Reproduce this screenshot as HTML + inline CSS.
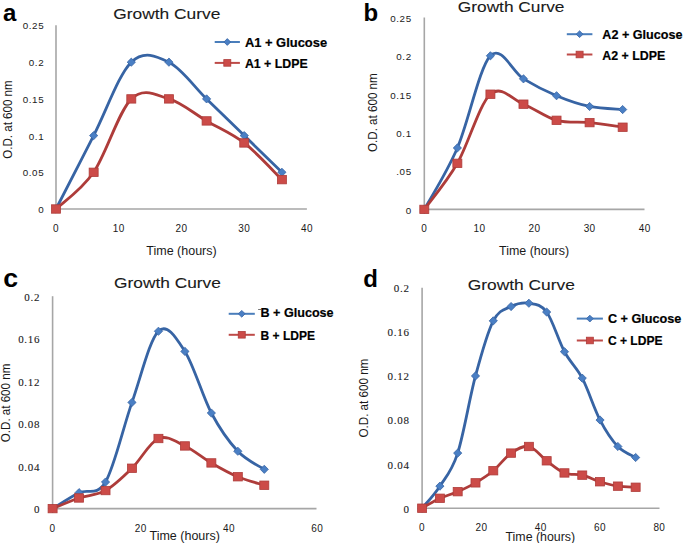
<!DOCTYPE html>
<html><head><meta charset="utf-8"><title>Growth Curves</title>
<style>
html,body{margin:0;padding:0;background:#fff;}
body{width:685px;height:543px;overflow:hidden;}
svg{display:block;}
text{font-family:"Liberation Sans",sans-serif;fill:#1a1a1a;}
.yl-sans{font-size:9.8px;letter-spacing:0.6px;}
.yl-serif{font-family:"Liberation Serif",serif;font-size:11px;letter-spacing:0.7px;stroke:#1a1a1a;stroke-width:0.1px;}
.xl{font-size:10px;letter-spacing:0.4px;}
.let{font-size:24px;font-weight:bold;fill:#000;}
.ttl{font-size:14.5px;stroke:#1a1a1a;stroke-width:0.1px;}
.ax{font-size:12px;}
.leg{font-size:13.2px;font-weight:bold;fill:#000;stroke:#000;stroke-width:0.2px;}
</style></head>
<body>
<svg width="685" height="543" viewBox="0 0 685 543">
<rect width="685" height="543" fill="#fff"/>
<line x1="56" y1="25.3" x2="56" y2="209.8" stroke="#a6a6a6" stroke-width="1.6"/>
<line x1="56" y1="209" x2="306.9" y2="209" stroke="#a6a6a6" stroke-width="1.6"/>
<text class="yl-sans" x="44.2" y="212.9" text-anchor="end">0</text>
<text class="yl-sans" x="44.2" y="176.2" text-anchor="end">0.05</text>
<text class="yl-sans" x="44.2" y="139.5" text-anchor="end">0.1</text>
<text class="yl-sans" x="44.2" y="102.8" text-anchor="end">0.15</text>
<text class="yl-sans" x="44.2" y="66.1" text-anchor="end">0.2</text>
<text class="yl-sans" x="44.2" y="29.4" text-anchor="end">0.25</text>
<text class="xl" x="56" y="232.2" text-anchor="middle">0</text>
<text class="xl" x="118.75" y="232.2" text-anchor="middle">10</text>
<text class="xl" x="181.5" y="232.2" text-anchor="middle">20</text>
<text class="xl" x="244.25" y="232.2" text-anchor="middle">30</text>
<text class="xl" x="307" y="232.2" text-anchor="middle">40</text>
<text class="let" x="3" y="21.2">a</text>
<text class="ttl" x="113.3" y="19.4" textLength="107.1" lengthAdjust="spacingAndGlyphs">Growth Curve</text>
<text class="ax" transform="translate(11.5,158.7) rotate(-90)" x="0" y="0" textLength="78.3" lengthAdjust="spacingAndGlyphs">O.D. at 600 nm</text>
<text class="ax" x="146.3" y="255.1" textLength="70.4" lengthAdjust="spacingAndGlyphs">Time (hours)</text>
<path d="M56,209 C62.27,196.77 81.1,160.07 93.65,135.6 C106.2,111.13 118.75,74.43 131.3,62.2 C143.85,49.97 156.4,56.08 168.95,62.2 C181.5,68.32 194.05,86.67 206.6,98.9 C219.15,111.13 231.7,123.37 244.25,135.6 C256.8,147.83 275.62,166.18 281.9,172.3" fill="none" stroke="#3764a4" stroke-width="2.8" stroke-linejoin="round" stroke-linecap="round"/>
<path d="M56,209 C62.27,202.88 81.1,190.65 93.65,172.3 C106.2,153.95 118.75,111.13 131.3,98.9 C143.85,86.67 156.4,95.23 168.95,98.9 C181.5,102.57 194.05,113.58 206.6,120.92 C219.15,128.26 231.7,133.15 244.25,142.94 C256.8,152.73 275.62,173.52 281.9,179.64" fill="none" stroke="#ae3c3a" stroke-width="2.8" stroke-linejoin="round" stroke-linecap="round"/>
<path d="M56,204.9 L60.1,209 L56,213.1 L51.9,209 Z" fill="#4a7fc4" stroke="#3764a4" stroke-width="0.8"/>
<path d="M93.65,131.5 L97.75,135.6 L93.65,139.7 L89.55,135.6 Z" fill="#4a7fc4" stroke="#3764a4" stroke-width="0.8"/>
<path d="M131.3,58.1 L135.4,62.2 L131.3,66.3 L127.2,62.2 Z" fill="#4a7fc4" stroke="#3764a4" stroke-width="0.8"/>
<path d="M168.95,58.1 L173.05,62.2 L168.95,66.3 L164.85,62.2 Z" fill="#4a7fc4" stroke="#3764a4" stroke-width="0.8"/>
<path d="M206.6,94.8 L210.7,98.9 L206.6,103 L202.5,98.9 Z" fill="#4a7fc4" stroke="#3764a4" stroke-width="0.8"/>
<path d="M244.25,131.5 L248.35,135.6 L244.25,139.7 L240.15,135.6 Z" fill="#4a7fc4" stroke="#3764a4" stroke-width="0.8"/>
<path d="M281.9,168.2 L286,172.3 L281.9,176.4 L277.8,172.3 Z" fill="#4a7fc4" stroke="#3764a4" stroke-width="0.8"/>
<rect x="51.5" y="204.8" width="9" height="8.4" fill="#cc4b48" stroke="#ae3c3a" stroke-width="0.8"/>
<rect x="89.15" y="168.1" width="9" height="8.4" fill="#cc4b48" stroke="#ae3c3a" stroke-width="0.8"/>
<rect x="126.8" y="94.7" width="9" height="8.4" fill="#cc4b48" stroke="#ae3c3a" stroke-width="0.8"/>
<rect x="164.45" y="94.7" width="9" height="8.4" fill="#cc4b48" stroke="#ae3c3a" stroke-width="0.8"/>
<rect x="202.1" y="116.72" width="9" height="8.4" fill="#cc4b48" stroke="#ae3c3a" stroke-width="0.8"/>
<rect x="239.75" y="138.74" width="9" height="8.4" fill="#cc4b48" stroke="#ae3c3a" stroke-width="0.8"/>
<rect x="277.4" y="175.44" width="9" height="8.4" fill="#cc4b48" stroke="#ae3c3a" stroke-width="0.8"/>
<line x1="214.7" y1="42" x2="239.9" y2="42" stroke="#4a7ebb" stroke-width="2"/>
<path d="M227.3,38.6 L230.7,42 L227.3,45.4 L223.9,42 Z" fill="#4a7fc4" stroke="#3764a4" stroke-width="0.8"/>
<text class="leg" style="font-size:13.2px" x="244.9" y="46.6" textLength="82.2" lengthAdjust="spacingAndGlyphs">A1 + Glucose</text>
<line x1="214.7" y1="62.9" x2="239.9" y2="62.9" stroke="#be4b48" stroke-width="2"/>
<rect x="223.8" y="59.6" width="7" height="6.6" fill="#cc4b48" stroke="#ae3c3a" stroke-width="0.8"/>
<text class="leg" style="font-size:13.2px" x="244.9" y="67.6" textLength="62.8" lengthAdjust="spacingAndGlyphs">A1 + LDPE</text>
<line x1="424.3" y1="17.5" x2="424.3" y2="210.2" stroke="#a6a6a6" stroke-width="1.6"/>
<line x1="424.3" y1="209.4" x2="644.5" y2="209.4" stroke="#a6a6a6" stroke-width="1.6"/>
<text class="yl-sans" x="411.7" y="213.8" text-anchor="end">0</text>
<text class="yl-sans" x="411.7" y="175.4" text-anchor="end">.05</text>
<text class="yl-sans" x="411.7" y="137" text-anchor="end">0.1</text>
<text class="yl-sans" x="411.7" y="98.6" text-anchor="end">0.15</text>
<text class="yl-sans" x="411.7" y="60.2" text-anchor="end">0.2</text>
<text class="yl-sans" x="411.7" y="21.8" text-anchor="end">0.25</text>
<text class="xl" x="424.3" y="232.2" text-anchor="middle">0</text>
<text class="xl" x="479.4" y="232.2" text-anchor="middle">10</text>
<text class="xl" x="534.5" y="232.2" text-anchor="middle">20</text>
<text class="xl" x="589.6" y="232.2" text-anchor="middle">30</text>
<text class="xl" x="644.7" y="232.2" text-anchor="middle">40</text>
<text class="let" x="363.6" y="21.2">b</text>
<text class="ttl" x="457.8" y="12.3" textLength="106.7" lengthAdjust="spacingAndGlyphs">Growth Curve</text>
<text class="ax" transform="translate(377,152) rotate(-90)" x="0" y="0" textLength="78.7" lengthAdjust="spacingAndGlyphs">O.D. at 600 nm</text>
<text class="ax" x="499" y="254.9" textLength="70.1" lengthAdjust="spacingAndGlyphs">Time (hours)</text>
<path d="M424.3,209.4 C429.81,199.16 446.34,173.56 457.36,147.96 C468.38,122.36 479.4,67.32 490.42,55.8 C501.44,44.28 512.46,72.18 523.48,78.84 C534.5,85.5 545.52,91.13 556.54,95.74 C567.56,100.34 578.58,104.18 589.6,106.49 C600.62,108.79 617.15,109.05 622.66,109.56" fill="none" stroke="#3764a4" stroke-width="2.8" stroke-linejoin="round" stroke-linecap="round"/>
<path d="M424.3,209.4 C429.81,201.72 446.34,182.52 457.36,163.32 C468.38,144.12 479.4,104.06 490.42,94.2 C501.44,84.34 512.46,99.83 523.48,104.18 C534.5,108.54 545.52,117.24 556.54,120.31 C567.56,123.38 578.58,121.46 589.6,122.62 C600.62,123.77 617.15,126.46 622.66,127.22" fill="none" stroke="#ae3c3a" stroke-width="2.8" stroke-linejoin="round" stroke-linecap="round"/>
<path d="M424.3,205.3 L428.4,209.4 L424.3,213.5 L420.2,209.4 Z" fill="#4a7fc4" stroke="#3764a4" stroke-width="0.8"/>
<path d="M457.36,143.86 L461.46,147.96 L457.36,152.06 L453.26,147.96 Z" fill="#4a7fc4" stroke="#3764a4" stroke-width="0.8"/>
<path d="M490.42,51.7 L494.52,55.8 L490.42,59.9 L486.32,55.8 Z" fill="#4a7fc4" stroke="#3764a4" stroke-width="0.8"/>
<path d="M523.48,74.74 L527.58,78.84 L523.48,82.94 L519.38,78.84 Z" fill="#4a7fc4" stroke="#3764a4" stroke-width="0.8"/>
<path d="M556.54,91.64 L560.64,95.74 L556.54,99.84 L552.44,95.74 Z" fill="#4a7fc4" stroke="#3764a4" stroke-width="0.8"/>
<path d="M589.6,102.39 L593.7,106.49 L589.6,110.59 L585.5,106.49 Z" fill="#4a7fc4" stroke="#3764a4" stroke-width="0.8"/>
<path d="M622.66,105.46 L626.76,109.56 L622.66,113.66 L618.56,109.56 Z" fill="#4a7fc4" stroke="#3764a4" stroke-width="0.8"/>
<rect x="419.8" y="205.2" width="9" height="8.4" fill="#cc4b48" stroke="#ae3c3a" stroke-width="0.8"/>
<rect x="452.86" y="159.12" width="9" height="8.4" fill="#cc4b48" stroke="#ae3c3a" stroke-width="0.8"/>
<rect x="485.92" y="90" width="9" height="8.4" fill="#cc4b48" stroke="#ae3c3a" stroke-width="0.8"/>
<rect x="518.98" y="99.98" width="9" height="8.4" fill="#cc4b48" stroke="#ae3c3a" stroke-width="0.8"/>
<rect x="552.04" y="116.11" width="9" height="8.4" fill="#cc4b48" stroke="#ae3c3a" stroke-width="0.8"/>
<rect x="585.1" y="118.42" width="9" height="8.4" fill="#cc4b48" stroke="#ae3c3a" stroke-width="0.8"/>
<rect x="618.16" y="123.02" width="9" height="8.4" fill="#cc4b48" stroke="#ae3c3a" stroke-width="0.8"/>
<line x1="566.8" y1="34.2" x2="592.4" y2="34.2" stroke="#4a7ebb" stroke-width="2"/>
<path d="M579.6,30.8 L583,34.2 L579.6,37.6 L576.2,34.2 Z" fill="#4a7fc4" stroke="#3764a4" stroke-width="0.8"/>
<text class="leg" style="font-size:13.2px" x="602.3" y="39.1" textLength="80.1" lengthAdjust="spacingAndGlyphs">A2 + Glucose</text>
<line x1="566.8" y1="54.5" x2="592.4" y2="54.5" stroke="#be4b48" stroke-width="2"/>
<rect x="576.1" y="51.2" width="7" height="6.6" fill="#cc4b48" stroke="#ae3c3a" stroke-width="0.8"/>
<text class="leg" style="font-size:13.2px" x="602.3" y="60" textLength="63" lengthAdjust="spacingAndGlyphs">A2 + LDPE</text>
<line x1="52.6" y1="296.2" x2="52.6" y2="509.4" stroke="#a6a6a6" stroke-width="1.6"/>
<line x1="52.6" y1="508.6" x2="316.5" y2="508.6" stroke="#a6a6a6" stroke-width="1.6"/>
<text class="yl-serif" x="40.2" y="513" text-anchor="end">0</text>
<text class="yl-serif" x="40.2" y="470.52" text-anchor="end">0.04</text>
<text class="yl-serif" x="40.2" y="428.04" text-anchor="end">0.08</text>
<text class="yl-serif" x="40.2" y="385.56" text-anchor="end">0.12</text>
<text class="yl-serif" x="40.2" y="343.08" text-anchor="end">0.16</text>
<text class="yl-serif" x="40.2" y="300.6" text-anchor="end">0.2</text>
<text class="xl" x="52.6" y="531.9" text-anchor="middle">0</text>
<text class="xl" x="140.8" y="531.9" text-anchor="middle">20</text>
<text class="xl" x="229" y="531.9" text-anchor="middle">40</text>
<text class="xl" x="317.2" y="531.9" text-anchor="middle">60</text>
<text class="let" style="font-size:25px" transform="translate(3.3,286.9) scale(1.07,1)" x="0" y="0">c</text>
<text class="ttl" x="114.1" y="288" textLength="106.7" lengthAdjust="spacingAndGlyphs">Growth Curve</text>
<text class="ax" transform="translate(10,442.2) rotate(-90)" x="0" y="0" textLength="78.5" lengthAdjust="spacingAndGlyphs">O.D. at 600 nm</text>
<text class="ax" x="149.5" y="539.7" textLength="70.4" lengthAdjust="spacingAndGlyphs">Time (hours)</text>
<path d="M52.6,508.6 C57.01,505.95 70.24,497.1 79.06,492.67 C87.88,488.25 96.7,497.1 105.52,482.05 C114.34,467 123.16,427.53 131.98,402.4 C140.8,377.27 149.62,339.74 158.44,331.25 C167.26,322.75 176.08,337.8 184.9,351.42 C193.72,365.05 202.54,396.38 211.36,413.02 C220.18,429.66 229,441.87 237.82,451.25 C246.64,460.63 259.87,466.3 264.28,469.31" fill="none" stroke="#3764a4" stroke-width="2.8" stroke-linejoin="round" stroke-linecap="round"/>
<path d="M52.6,508.6 C57.01,506.83 70.24,500.99 79.06,497.98 C87.88,494.97 96.7,495.5 105.52,490.55 C114.34,485.59 123.16,476.92 131.98,468.24 C140.8,459.57 149.62,442.23 158.44,438.51 C167.26,434.79 176.08,441.87 184.9,445.94 C193.72,450.01 202.54,457.8 211.36,462.93 C220.18,468.07 229,473.02 237.82,476.74 C246.64,480.46 259.87,483.82 264.28,485.24" fill="none" stroke="#ae3c3a" stroke-width="2.8" stroke-linejoin="round" stroke-linecap="round"/>
<path d="M52.6,504.5 L56.7,508.6 L52.6,512.7 L48.5,508.6 Z" fill="#4a7fc4" stroke="#3764a4" stroke-width="0.8"/>
<path d="M79.06,488.57 L83.16,492.67 L79.06,496.77 L74.96,492.67 Z" fill="#4a7fc4" stroke="#3764a4" stroke-width="0.8"/>
<path d="M105.52,477.95 L109.62,482.05 L105.52,486.15 L101.42,482.05 Z" fill="#4a7fc4" stroke="#3764a4" stroke-width="0.8"/>
<path d="M131.98,398.3 L136.08,402.4 L131.98,406.5 L127.88,402.4 Z" fill="#4a7fc4" stroke="#3764a4" stroke-width="0.8"/>
<path d="M158.44,327.15 L162.54,331.25 L158.44,335.35 L154.34,331.25 Z" fill="#4a7fc4" stroke="#3764a4" stroke-width="0.8"/>
<path d="M184.9,347.32 L189,351.42 L184.9,355.52 L180.8,351.42 Z" fill="#4a7fc4" stroke="#3764a4" stroke-width="0.8"/>
<path d="M211.36,408.92 L215.46,413.02 L211.36,417.12 L207.26,413.02 Z" fill="#4a7fc4" stroke="#3764a4" stroke-width="0.8"/>
<path d="M237.82,447.15 L241.92,451.25 L237.82,455.35 L233.72,451.25 Z" fill="#4a7fc4" stroke="#3764a4" stroke-width="0.8"/>
<path d="M264.28,465.21 L268.38,469.31 L264.28,473.41 L260.18,469.31 Z" fill="#4a7fc4" stroke="#3764a4" stroke-width="0.8"/>
<rect x="48.1" y="504.4" width="9" height="8.4" fill="#cc4b48" stroke="#ae3c3a" stroke-width="0.8"/>
<rect x="74.56" y="493.78" width="9" height="8.4" fill="#cc4b48" stroke="#ae3c3a" stroke-width="0.8"/>
<rect x="101.02" y="486.35" width="9" height="8.4" fill="#cc4b48" stroke="#ae3c3a" stroke-width="0.8"/>
<rect x="127.48" y="464.04" width="9" height="8.4" fill="#cc4b48" stroke="#ae3c3a" stroke-width="0.8"/>
<rect x="153.94" y="434.31" width="9" height="8.4" fill="#cc4b48" stroke="#ae3c3a" stroke-width="0.8"/>
<rect x="180.4" y="441.74" width="9" height="8.4" fill="#cc4b48" stroke="#ae3c3a" stroke-width="0.8"/>
<rect x="206.86" y="458.73" width="9" height="8.4" fill="#cc4b48" stroke="#ae3c3a" stroke-width="0.8"/>
<rect x="233.32" y="472.54" width="9" height="8.4" fill="#cc4b48" stroke="#ae3c3a" stroke-width="0.8"/>
<rect x="259.78" y="481.04" width="9" height="8.4" fill="#cc4b48" stroke="#ae3c3a" stroke-width="0.8"/>
<line x1="228.7" y1="313.8" x2="254.8" y2="313.8" stroke="#4a7ebb" stroke-width="2"/>
<path d="M241.75,310.4 L245.15,313.8 L241.75,317.2 L238.35,313.8 Z" fill="#4a7fc4" stroke="#3764a4" stroke-width="0.8"/>
<text class="leg" style="font-size:13.6px" x="260.5" y="316.9" textLength="73.1" lengthAdjust="spacingAndGlyphs">B + Glucose</text>
<line x1="228.7" y1="334.8" x2="254.8" y2="334.8" stroke="#be4b48" stroke-width="2"/>
<rect x="238.25" y="331.5" width="7" height="6.6" fill="#cc4b48" stroke="#ae3c3a" stroke-width="0.8"/>
<text class="leg" style="font-size:13.6px" x="260.5" y="340.3" textLength="54.5" lengthAdjust="spacingAndGlyphs">B + LDPE</text>
<line x1="258.1" y1="309.5" x2="261" y2="309.5" stroke="#666" stroke-width="0.9"/>
<line x1="422.1" y1="287.8" x2="422.1" y2="509" stroke="#a6a6a6" stroke-width="1.6"/>
<line x1="422.1" y1="508.2" x2="659.5" y2="508.2" stroke="#a6a6a6" stroke-width="1.6"/>
<text class="yl-serif" x="409.6" y="512.6" text-anchor="end">0</text>
<text class="yl-serif" x="409.6" y="468.52" text-anchor="end">0.04</text>
<text class="yl-serif" x="409.6" y="424.44" text-anchor="end">0.08</text>
<text class="yl-serif" x="409.6" y="380.36" text-anchor="end">0.12</text>
<text class="yl-serif" x="409.6" y="336.28" text-anchor="end">0.16</text>
<text class="yl-serif" x="409.6" y="292.2" text-anchor="end">0.2</text>
<text class="xl" x="422.1" y="531.1" text-anchor="middle">0</text>
<text class="xl" x="481.42" y="531.1" text-anchor="middle">20</text>
<text class="xl" x="540.74" y="531.1" text-anchor="middle">40</text>
<text class="xl" x="600.06" y="531.1" text-anchor="middle">60</text>
<text class="xl" x="659.38" y="531.1" text-anchor="middle">80</text>
<text class="let" x="363.3" y="286.8">d</text>
<text class="ttl" x="467.8" y="289.8" textLength="107.1" lengthAdjust="spacingAndGlyphs">Growth Curve</text>
<text class="ax" transform="translate(368.2,437.5) rotate(-90)" x="0" y="0" textLength="78.8" lengthAdjust="spacingAndGlyphs">O.D. at 600 nm</text>
<text class="ax" x="505.5" y="540.7" textLength="69.6" lengthAdjust="spacingAndGlyphs">Time (hours)</text>
<path d="M422.1,508.2 C425.07,504.53 433.96,495.34 439.9,486.16 C445.83,476.98 451.76,471.47 457.69,453.1 C463.62,434.73 469.56,398 475.49,375.96 C481.42,353.92 487.35,332.43 493.28,320.86 C499.22,309.29 505.15,309.47 511.08,306.53 C517.01,303.6 522.94,302.31 528.88,303.23 C534.81,304.15 540.74,303.96 546.67,312.04 C552.6,320.13 558.54,340.7 564.47,351.72 C570.4,362.74 576.33,366.78 582.26,378.16 C588.2,389.55 594.13,408.65 600.06,420.04 C605.99,431.43 611.92,440.24 617.86,446.49 C623.79,452.73 632.69,455.67 635.65,457.51" fill="none" stroke="#3764a4" stroke-width="2.8" stroke-linejoin="round" stroke-linecap="round"/>
<path d="M422.1,508.2 C425.07,506.55 433.96,501.04 439.9,498.28 C445.83,495.53 451.76,494.24 457.69,491.67 C463.62,489.1 469.56,486.34 475.49,482.85 C481.42,479.36 487.35,475.69 493.28,470.73 C499.22,465.77 505.15,457.14 511.08,453.1 C517.01,449.06 522.94,445.2 528.88,446.49 C534.81,447.77 540.74,456.41 546.67,460.81 C552.6,465.22 558.54,470.55 564.47,472.94 C570.4,475.32 576.33,473.67 582.26,475.14 C588.2,476.61 594.13,479.92 600.06,481.75 C605.99,483.59 611.92,485.24 617.86,486.16 C623.79,487.08 632.69,487.08 635.65,487.26" fill="none" stroke="#ae3c3a" stroke-width="2.8" stroke-linejoin="round" stroke-linecap="round"/>
<path d="M422.1,504.1 L426.2,508.2 L422.1,512.3 L418,508.2 Z" fill="#4a7fc4" stroke="#3764a4" stroke-width="0.8"/>
<path d="M439.9,482.06 L444,486.16 L439.9,490.26 L435.8,486.16 Z" fill="#4a7fc4" stroke="#3764a4" stroke-width="0.8"/>
<path d="M457.69,449 L461.79,453.1 L457.69,457.2 L453.59,453.1 Z" fill="#4a7fc4" stroke="#3764a4" stroke-width="0.8"/>
<path d="M475.49,371.86 L479.59,375.96 L475.49,380.06 L471.39,375.96 Z" fill="#4a7fc4" stroke="#3764a4" stroke-width="0.8"/>
<path d="M493.28,316.76 L497.38,320.86 L493.28,324.96 L489.18,320.86 Z" fill="#4a7fc4" stroke="#3764a4" stroke-width="0.8"/>
<path d="M511.08,302.43 L515.18,306.53 L511.08,310.63 L506.98,306.53 Z" fill="#4a7fc4" stroke="#3764a4" stroke-width="0.8"/>
<path d="M528.88,299.13 L532.98,303.23 L528.88,307.33 L524.78,303.23 Z" fill="#4a7fc4" stroke="#3764a4" stroke-width="0.8"/>
<path d="M546.67,307.94 L550.77,312.04 L546.67,316.14 L542.57,312.04 Z" fill="#4a7fc4" stroke="#3764a4" stroke-width="0.8"/>
<path d="M564.47,347.62 L568.57,351.72 L564.47,355.82 L560.37,351.72 Z" fill="#4a7fc4" stroke="#3764a4" stroke-width="0.8"/>
<path d="M582.26,374.06 L586.36,378.16 L582.26,382.26 L578.16,378.16 Z" fill="#4a7fc4" stroke="#3764a4" stroke-width="0.8"/>
<path d="M600.06,415.94 L604.16,420.04 L600.06,424.14 L595.96,420.04 Z" fill="#4a7fc4" stroke="#3764a4" stroke-width="0.8"/>
<path d="M617.86,442.39 L621.96,446.49 L617.86,450.59 L613.76,446.49 Z" fill="#4a7fc4" stroke="#3764a4" stroke-width="0.8"/>
<path d="M635.65,453.41 L639.75,457.51 L635.65,461.61 L631.55,457.51 Z" fill="#4a7fc4" stroke="#3764a4" stroke-width="0.8"/>
<rect x="417.6" y="504" width="9" height="8.4" fill="#cc4b48" stroke="#ae3c3a" stroke-width="0.8"/>
<rect x="435.4" y="494.08" width="9" height="8.4" fill="#cc4b48" stroke="#ae3c3a" stroke-width="0.8"/>
<rect x="453.19" y="487.47" width="9" height="8.4" fill="#cc4b48" stroke="#ae3c3a" stroke-width="0.8"/>
<rect x="470.99" y="478.65" width="9" height="8.4" fill="#cc4b48" stroke="#ae3c3a" stroke-width="0.8"/>
<rect x="488.78" y="466.53" width="9" height="8.4" fill="#cc4b48" stroke="#ae3c3a" stroke-width="0.8"/>
<rect x="506.58" y="448.9" width="9" height="8.4" fill="#cc4b48" stroke="#ae3c3a" stroke-width="0.8"/>
<rect x="524.38" y="442.29" width="9" height="8.4" fill="#cc4b48" stroke="#ae3c3a" stroke-width="0.8"/>
<rect x="542.17" y="456.61" width="9" height="8.4" fill="#cc4b48" stroke="#ae3c3a" stroke-width="0.8"/>
<rect x="559.97" y="468.74" width="9" height="8.4" fill="#cc4b48" stroke="#ae3c3a" stroke-width="0.8"/>
<rect x="577.76" y="470.94" width="9" height="8.4" fill="#cc4b48" stroke="#ae3c3a" stroke-width="0.8"/>
<rect x="595.56" y="477.55" width="9" height="8.4" fill="#cc4b48" stroke="#ae3c3a" stroke-width="0.8"/>
<rect x="613.36" y="481.96" width="9" height="8.4" fill="#cc4b48" stroke="#ae3c3a" stroke-width="0.8"/>
<rect x="631.15" y="483.06" width="9" height="8.4" fill="#cc4b48" stroke="#ae3c3a" stroke-width="0.8"/>
<line x1="576.8" y1="318.6" x2="602.9" y2="318.6" stroke="#4a7ebb" stroke-width="2"/>
<path d="M589.85,315.2 L593.25,318.6 L589.85,322 L586.45,318.6 Z" fill="#4a7fc4" stroke="#3764a4" stroke-width="0.8"/>
<text class="leg" style="font-size:13.2px" x="607.9" y="323.4" textLength="73.5" lengthAdjust="spacingAndGlyphs">C + Glucose</text>
<line x1="576.8" y1="340.5" x2="602.9" y2="340.5" stroke="#be4b48" stroke-width="2"/>
<rect x="586.35" y="337.2" width="7" height="6.6" fill="#cc4b48" stroke="#ae3c3a" stroke-width="0.8"/>
<text class="leg" style="font-size:13.2px" x="607.9" y="344.7" textLength="54.7" lengthAdjust="spacingAndGlyphs">C + LDPE</text>
</svg>
</body></html>
